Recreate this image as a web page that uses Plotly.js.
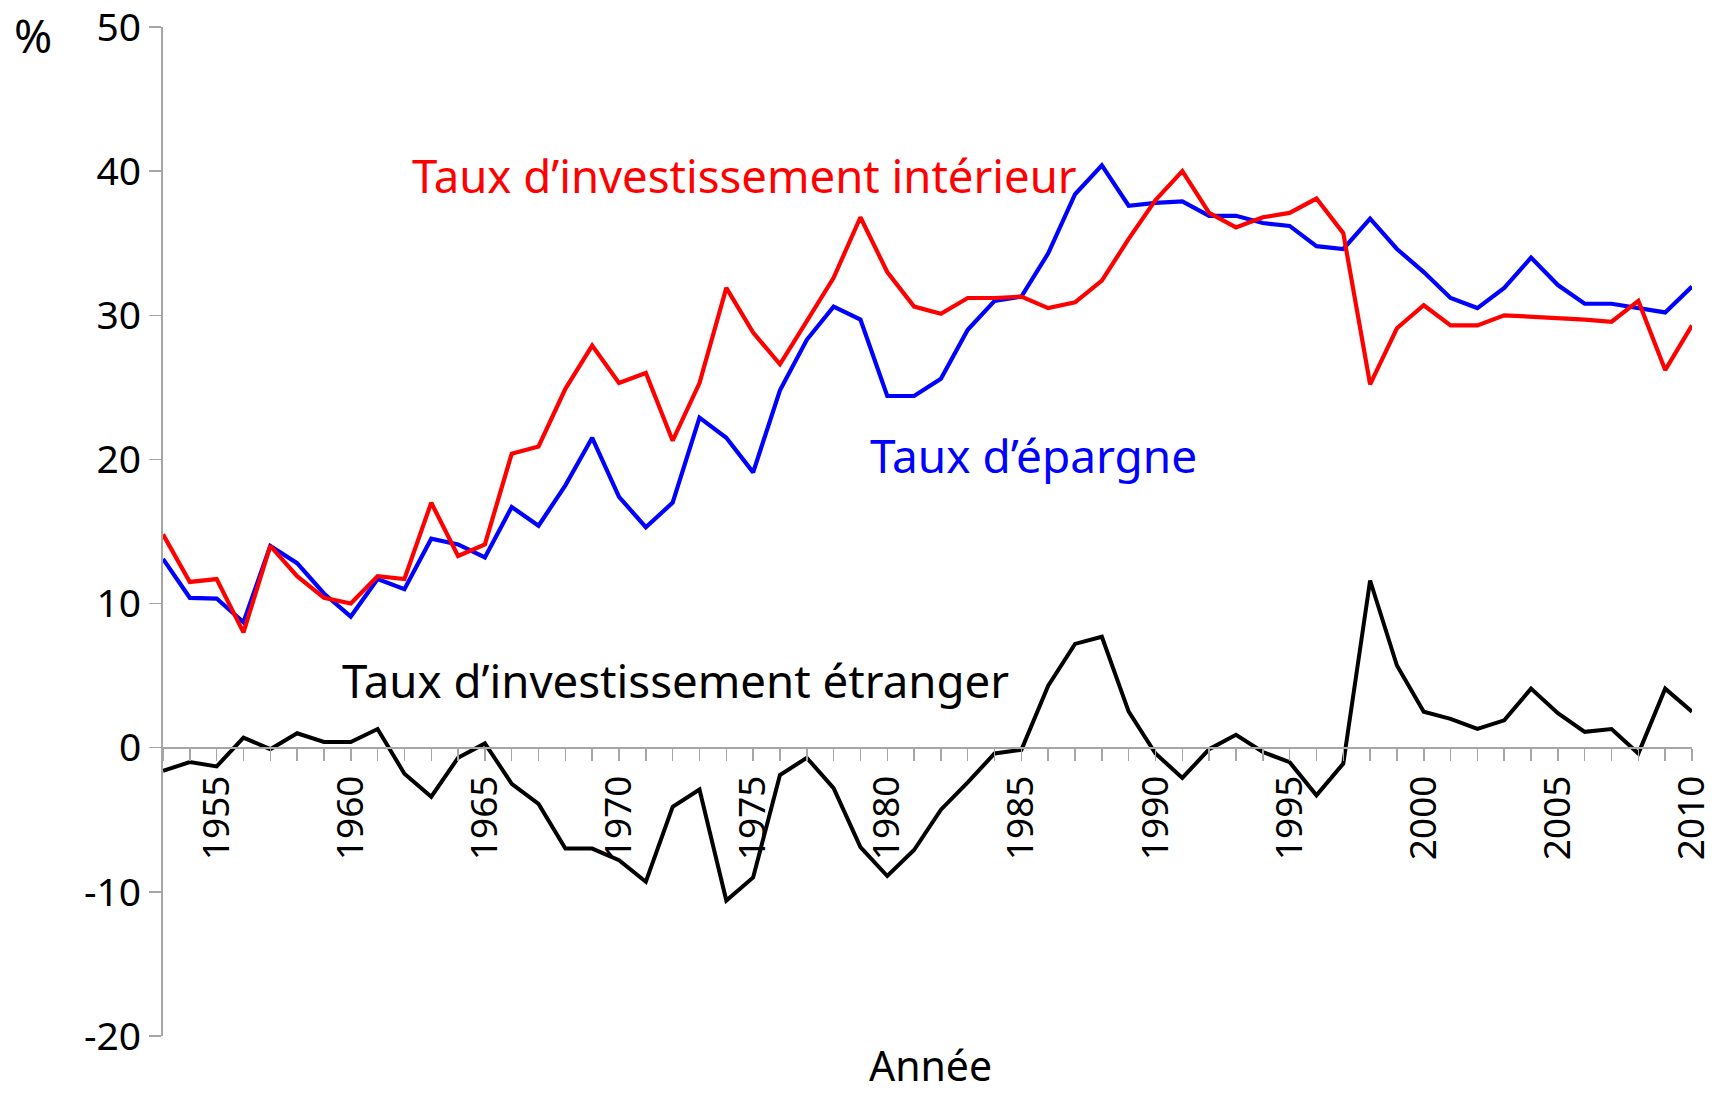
<!DOCTYPE html>
<html>
<head>
<meta charset="utf-8">
<script src="https://cdn.plot.ly/plotly-3.0.1.min.js"></script>
<style>html,body{margin:0;padding:0;background:#fff;}#chart{width:1725px;height:1094px;}</style>
</head>
<body>
<div id="chart"></div>
<script>
const years = [1953,1954,1955,1956,1957,1958,1959,1960,1961,1962,1963,1964,1965,1966,1967,1968,1969,1970,1971,1972,1973,1974,1975,1976,1977,1978,1979,1980,1981,1982,1983,1984,1985,1986,1987,1988,1989,1990,1991,1992,1993,1994,1995,1996,1997,1998,1999,2000,2001,2002,2003,2004,2005,2006,2007,2008,2009,2010];

const investInterieur = [14.8,11.5,11.7,8.0,14.0,11.9,10.4,10.0,11.9,11.7,17.0,13.3,14.1,20.4,20.9,24.9,27.9,25.3,26.0,21.3,25.3,31.9,28.8,26.6,29.6,32.6,36.8,33.0,30.6,30.1,31.2,31.2,31.3,30.5,30.9,32.4,35.3,38.0,40.0,37.1,36.1,36.8,37.1,38.1,35.7,25.2,29.1,30.7,29.3,29.3,30.0,29.9,29.85,29.7,29.55,31.0,26.2,29.3];

const tauxEpargne = [13.1,10.4,10.35,8.7,14.0,12.8,10.7,9.1,11.7,11.0,14.5,14.1,13.2,16.7,15.4,18.2,21.5,17.4,15.3,17.0,22.9,21.5,19.1,24.8,28.3,30.6,29.7,24.4,24.4,25.6,29.0,31.0,31.3,34.3,38.4,40.4,37.6,37.8,37.9,36.9,36.9,36.4,36.2,34.8,34.6,36.7,34.6,33.0,31.2,30.5,31.9,34.0,32.1,30.8,30.8,30.5,30.2,32.0];

const investEtranger = [-1.6,-1.0,-1.3,0.7,-0.1,1.0,0.4,0.4,1.3,-1.8,-3.4,-0.7,0.3,-2.5,-3.9,-7.0,-7.0,-7.8,-9.3,-4.1,-2.9,-10.6,-9.0,-1.9,-0.7,-2.8,-6.9,-8.9,-7.1,-4.3,-2.4,-0.4,-0.15,4.3,7.2,7.7,2.5,-0.4,-2.1,-0.1,0.9,-0.3,-1.0,-3.3,-1.1,11.6,5.7,2.5,2.0,1.3,1.9,4.1,2.4,1.1,1.3,-0.4,4.1,2.5];

const yTicks = [-20,-10,0,10,20,30,40,50];
const xTicks = [1955,1960,1965,1970,1975,1980,1985,1990,1995,2000,2005,2010];

const FONT = '"Noto Sans", "Noto Sans CJK KR", sans-serif';
const Y_MIN = -20, Y_MAX = 50;

const traces = [
  {x: years, y: investEtranger, type: 'scatter', mode: 'lines', line: {color: '#000000', width: 4}, name: "Taux d’investissement étranger"},
  {x: years, y: tauxEpargne, type: 'scatter', mode: 'lines', line: {color: '#0000ff', width: 4.2}, name: "Taux d’épargne"},
  {x: years, y: investInterieur, type: 'scatter', mode: 'lines', line: {color: '#ff0000', width: 4.2}, name: "Taux d’investissement intérieur"}
];

const layout = {
  width: 1725, height: 1094,
  margin: {l: 163, r: 33, t: 27, b: 58},
  paper_bgcolor: '#ffffff', plot_bgcolor: '#ffffff',
  showlegend: false,
  font: {family: FONT, color: '#000000', size: 36},
  xaxis: {
    range: [1953, 2010],
    tickmode: 'array', tickvals: xTicks, ticktext: xTicks.map(String),
    tickangle: -90,
    ticks: 'outside', ticklen: 12, tickwidth: 1.5, tickcolor: '#a6a6a6',
    minor: {dtick: 1, tick0: 1953, ticks: 'outside', ticklen: 12, tickwidth: 1.5, tickcolor: '#a6a6a6', showgrid: false},
    showline: true, linecolor: '#a6a6a6', linewidth: 2,
    showgrid: false, zeroline: false,
    anchor: 'free', position: (0 - Y_MIN) / (Y_MAX - Y_MIN),
    ticklabeloverflow: 'allow',
    tickfont: {family: FONT, size: 37, color: '#000000'}
  },
  yaxis: {
    range: [Y_MIN, Y_MAX],
    tickmode: 'array', tickvals: yTicks, ticktext: yTicks.map(String),
    ticks: 'outside', ticklen: 12, tickwidth: 1.5, tickcolor: '#a6a6a6',
    showline: true, linecolor: '#a6a6a6', linewidth: 2,
    showgrid: false, zeroline: false,
    ticklabeloverflow: 'allow',
    tickfont: {family: FONT, size: 39, color: '#000000'}
  },
  annotations: [
    {text: 'Taux d’investissement intérieur', x: 1962.2, y: 39.7, xref: 'x', yref: 'y', xanchor: 'left', yanchor: 'middle', showarrow: false, font: {family: FONT, size: 45.5, color: '#ff0000'}},
    {text: 'Taux d’épargne', x: 1979.3, y: 20.3, xref: 'x', yref: 'y', xanchor: 'left', yanchor: 'middle', showarrow: false, font: {family: FONT, size: 46, color: '#0000ff'}},
    {text: 'Taux d’investissement étranger', x: 1959.6, y: 4.7, xref: 'x', yref: 'y', xanchor: 'left', yanchor: 'middle', showarrow: false, font: {family: FONT, size: 45.6, color: '#000000'}},
    {text: '%', x: -0.085, y: 0.992, xref: 'paper', yref: 'paper', xanchor: 'center', yanchor: 'middle', showarrow: false, font: {family: FONT, size: 46, color: '#000000'}},
    {text: 'Année', x: 0.502, y: -0.0285, xref: 'paper', yref: 'paper', xanchor: 'center', yanchor: 'middle', showarrow: false, font: {family: FONT, size: 41, color: '#000000'}}
  ]
};

Plotly.newPlot('chart', traces, layout, {displayModeBar: false, staticPlot: true});
</script>
</body>
</html>
